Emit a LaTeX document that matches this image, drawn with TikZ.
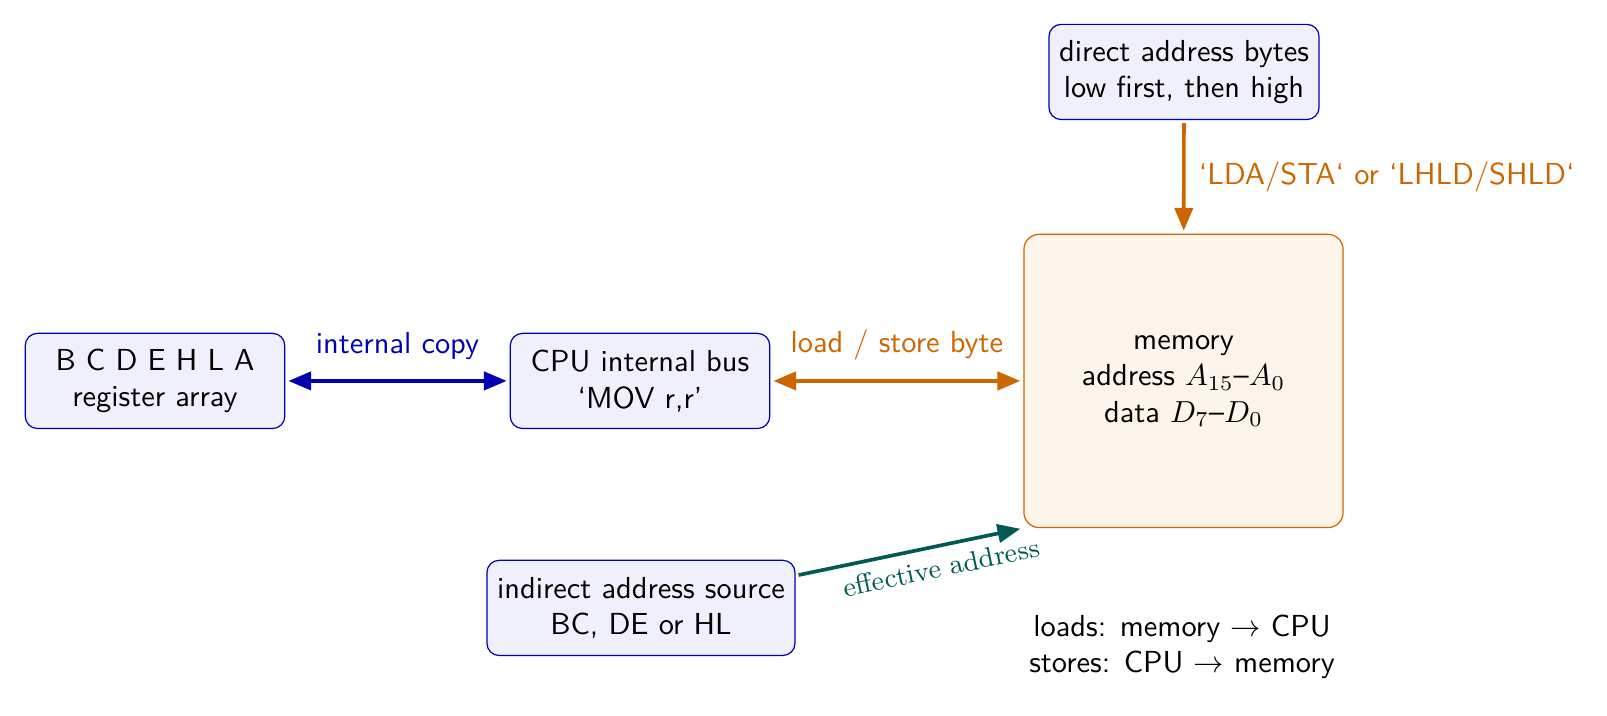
\documentclass[tikz,border=0pt]{standalone}
\usepackage{amsmath}
\usetikzlibrary{arrows.meta}
\renewcommand{\familydefault}{\sfdefault}
\definecolor{boxblue}{rgb}{0,0,0.70}
\definecolor{boxfill}{rgb}{0.941,0.941,0.988}
\definecolor{orng}{rgb}{0.80,0.40,0}
\definecolor{memfill}{rgb}{0.992,0.961,0.922}
\definecolor{tealc}{rgb}{0,0.35,0.32}
\tikzset{
  cbox/.style={draw=boxblue, fill=boxfill, rounded corners=4pt, align=center,
    minimum width=3cm, minimum height=1.1cm, inner sep=3.333pt},
  membox/.style={draw=orng, fill=memfill, rounded corners=5pt, align=center,
    minimum width=3.69cm, minimum height=3.39cm},
  conn/.style={line width=1.2pt, shorten >=1pt, shorten <=1pt},
  tip/.style={-{Triangle[length=7.5pt,width=6pt]}},
  tips/.style={{Triangle[length=7.5pt,width=6pt]}-{Triangle[length=7.5pt,width=6pt]}}
}
\begin{document}
\begin{tikzpicture}
\useasboundingbox (0,0) rectangle (18.578,8.277);
\node[cbox] (reg) at (1.792,3.873) {B C D E H L A\\register array};
\node[cbox] (cpu) at (7.399,3.873) {CPU internal bus\\`MOV r,r'};
\node[membox] (mem) at (13.682,3.873) {memory\\address $A_{15}$--$A_0$\\data $D_7$--$D_0$};
\node[cbox] (dir) at (13.688,7.445) {direct address bytes\\low first, then high};
\node[cbox] (ind) at (7.410,1.249) {indirect address source\\BC, DE or HL};
\node[align=center] (notes) at (13.665,0.798) {loads: memory $\to$ CPU\\stores: CPU $\to$ memory};

\draw[conn, tips, boxblue] (reg) -- node[above=3pt, text=boxblue] {internal copy} (cpu);
\draw[conn, tips, orng] (cpu) -- node[above=3pt, text=orng] {load / store byte} (mem);
\draw[conn, tip, orng] (dir) -- node[right=1pt, text=orng] {`LDA/STA` or `LHLD/SHLD`} (mem);
\draw[conn, tip, tealc] (ind) -- node[pos=0.62, below, sloped, text=tealc, font=\rmfamily\small] {effective address} (mem.south west);
\end{tikzpicture}
\end{document}
